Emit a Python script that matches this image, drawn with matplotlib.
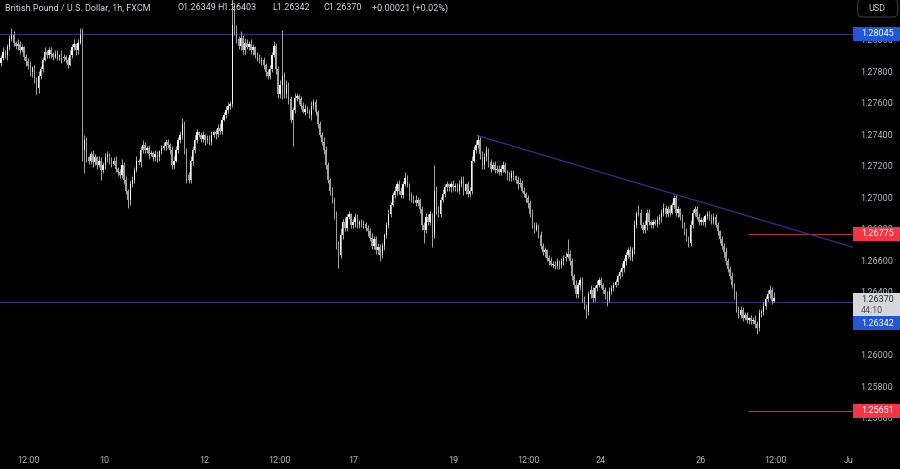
import numpy as np
import matplotlib
matplotlib.use("Agg")
import matplotlib.pyplot as plt
from matplotlib.patches import Rectangle, FancyBboxPatch

# hourly GBP/USD closes (one per bar, weekends skipped)
closes = [
    1.2789, 1.2793, 1.2791, 1.2796, 1.2801, 1.2804, 1.2799, 1.2797, 1.2798, 1.2794,
    1.2796, 1.2790, 1.2787, 1.2784, 1.2780, 1.2783, 1.2775, 1.2770, 1.2778, 1.2782,
    1.2788, 1.2793, 1.2791, 1.2794, 1.2792, 1.2790, 1.2792, 1.2790, 1.2791, 1.2789,
    1.2790, 1.2788, 1.2785, 1.2791, 1.2796, 1.2798, 1.2794, 1.2799, 1.2804, 1.2731,
    1.2737, 1.2726, 1.2724, 1.2728, 1.2723, 1.2726, 1.2721, 1.2724, 1.2718, 1.2721,
    1.2726, 1.2728, 1.2724, 1.2722, 1.2724, 1.2719, 1.2717, 1.2715, 1.2721, 1.2712,
    1.2705, 1.2699, 1.2709, 1.2712, 1.2718, 1.2724, 1.2723, 1.2731, 1.2734, 1.2731,
    1.2732, 1.2728, 1.2729, 1.2726, 1.2728, 1.2726, 1.2730, 1.2732, 1.2733, 1.2736,
    1.2734, 1.2731, 1.2721, 1.2724, 1.2731, 1.2737, 1.2740, 1.2747, 1.2731, 1.2715,
    1.2712, 1.2724, 1.2731, 1.2737, 1.2742, 1.2740, 1.2738, 1.2740, 1.2737, 1.2738,
    1.2736, 1.2740, 1.2742, 1.2741, 1.2745, 1.2743, 1.2750, 1.2753, 1.2756, 1.2759,
    1.2760, 1.2810, 1.2807, 1.2801, 1.2797, 1.2802, 1.2794, 1.2799, 1.2796, 1.2798,
    1.2794, 1.2796, 1.2791, 1.2789, 1.2787, 1.2788, 1.2785, 1.2780, 1.2778, 1.2782,
    1.2791, 1.2797, 1.2782, 1.2766, 1.2772, 1.2778, 1.2766, 1.2772, 1.2763, 1.2750,
    1.2756, 1.2764, 1.2765, 1.2763, 1.2759, 1.2755, 1.2757, 1.2756, 1.2753, 1.2759,
    1.2761, 1.2755, 1.2747, 1.2740, 1.2736, 1.2731, 1.2721, 1.2712, 1.2705, 1.2699,
    1.2690, 1.2670, 1.2664, 1.2677, 1.2685, 1.2681, 1.2688, 1.2690, 1.2683, 1.2685,
    1.2688, 1.2683, 1.2685, 1.2683, 1.2684, 1.2681, 1.2679, 1.2675, 1.2670, 1.2674,
    1.2667, 1.2669, 1.2664, 1.2670, 1.2677, 1.2683, 1.2690, 1.2696, 1.2702, 1.2705,
    1.2709, 1.2705, 1.2702, 1.2709, 1.2713, 1.2709, 1.2702, 1.2700, 1.2699, 1.2697,
    1.2699, 1.2693, 1.2683, 1.2680, 1.2688, 1.2685, 1.2690, 1.2677, 1.2705, 1.2693,
    1.2690, 1.2699, 1.2703, 1.2707, 1.2709, 1.2707, 1.2709, 1.2707, 1.2708, 1.2705,
    1.2709, 1.2712, 1.2705, 1.2709, 1.2703, 1.2705, 1.2724, 1.2731, 1.2734, 1.2737,
    1.2728, 1.2721, 1.2726, 1.2731, 1.2723, 1.2719, 1.2721, 1.2718, 1.2719, 1.2717,
    1.2719, 1.2721, 1.2717, 1.2715, 1.2713, 1.2716, 1.2714, 1.2712, 1.2709, 1.2710,
    1.2705, 1.2703, 1.2700, 1.2697, 1.2690, 1.2683, 1.2680, 1.2683, 1.2677, 1.2670,
    1.2666, 1.2667, 1.2662, 1.2660, 1.2658, 1.2658, 1.2657, 1.2660, 1.2658, 1.2660,
    1.2662, 1.2663, 1.2665, 1.2660, 1.2651, 1.2645, 1.2639, 1.2645, 1.2648, 1.2636,
    1.2632, 1.2628, 1.2639, 1.2642, 1.2637, 1.2643, 1.2645, 1.2648, 1.2645, 1.2642,
    1.2639, 1.2636, 1.2641, 1.2643, 1.2645, 1.2647, 1.2651, 1.2653, 1.2656, 1.2660,
    1.2664, 1.2667, 1.2663, 1.2667, 1.2683, 1.2690, 1.2691, 1.2683, 1.2680, 1.2683,
    1.2691, 1.2685, 1.2683, 1.2685, 1.2684, 1.2686, 1.2688, 1.2691, 1.2694, 1.2690,
    1.2693, 1.2691, 1.2696, 1.2700, 1.2691, 1.2693, 1.2688, 1.2683, 1.2679, 1.2675,
    1.2672, 1.2683, 1.2691, 1.2693, 1.2688, 1.2685, 1.2686, 1.2685, 1.2689, 1.2690,
    1.2688, 1.2686, 1.2688, 1.2683, 1.2679, 1.2674, 1.2670, 1.2666, 1.2660, 1.2655,
    1.2651, 1.2645, 1.2639, 1.2630, 1.2626, 1.2629, 1.2624, 1.2626, 1.2623, 1.2624,
    1.2622, 1.2623, 1.2620, 1.2618, 1.2627, 1.2628, 1.2632, 1.2636, 1.2639, 1.2642,
    1.2635, 1.26370,
]
first_open = 1.2786
last_open = 1.26349

# wick lengths in pips above / below the body
wick_up = [
    2, 3, 1, 2, 3, 4, 2, 1, 3, 2, 2, 1, 2, 2, 3, 1, 2, 2, 3, 2,
    2, 3, 1, 2, 2, 1, 2, 2, 1, 3, 2, 1, 2, 3, 2, 3, 1, 2, 4, 4,
    3, 2, 1, 2, 3, 2, 1, 3, 2, 2, 3, 2, 1, 2, 2, 3, 1, 2, 4, 2,
    2, 1, 3, 2, 2, 3, 1, 2, 3, 2, 1, 2, 2, 1, 3, 2, 1, 2, 3, 2,
    2, 1, 2, 3, 2, 2, 3, 4, 2, 1, 2, 3, 2, 3, 2, 1, 2, 3, 1, 2,
    2, 3, 1, 2, 2, 3, 2, 2, 3, 2, 2, 50, 13, 3, 2, 4, 2, 3, 2, 2,
    3, 2, 1, 2, 3, 2, 2, 1, 2, 3, 2, 3, 2, 2, 3, 29, 2, 3, 2, 2,
    2, 3, 2, 1, 2, 2, 3, 2, 1, 3, 2, 2, 1, 2, 2, 3, 2, 2, 1, 2,
    2, 2, 3, 4, 2, 3, 2, 2, 1, 2, 3, 2, 1, 2, 2, 1, 2, 2, 3, 2,
    2, 3, 2, 2, 1, 2, 3, 2, 2, 3, 2, 3, 2, 2, 4, 2, 1, 2, 2, 3,
    2, 1, 2, 2, 3, 2, 2, 1, 16, 3, 2, 2, 3, 2, 2, 1, 2, 3, 2, 2,
    3, 2, 2, 1, 2, 2, 3, 2, 3, 3, 2, 2, 3, 2, 1, 2, 2, 3, 2, 2,
    2, 3, 2, 1, 2, 2, 2, 1, 2, 3, 2, 2, 1, 2, 2, 3, 2, 2, 1, 2,
    2, 2, 1, 2, 3, 2, 2, 2, 1, 2, 2, 3, 9, 2, 2, 1, 3, 2, 2, 2,
    2, 1, 2, 3, 2, 2, 3, 2, 2, 1, 2, 2, 3, 2, 2, 2, 1, 2, 3, 2,
    2, 2, 3, 2, 3, 2, 5, 2, 2, 3, 2, 2, 1, 2, 2, 3, 2, 2, 3, 2,
    2, 3, 2, 2, 2, 2, 1, 2, 2, 2, 1, 3, 2, 2, 2, 3, 2, 2, 1, 2,
    2, 2, 3, 2, 2, 1, 2, 2, 3, 2, 2, 2, 1, 2, 2, 3, 2, 2, 2, 1,
    2, 2, 3, 2, 3, 2, 2, 2, 3, 3, 2, 3.3,
]
wick_dn = [
    2, 1, 2, 3, 2, 1, 2, 2, 3, 2, 1, 2, 3, 2, 2, 3, 2, 4, 3, 2,
    2, 1, 2, 2, 3, 2, 1, 2, 2, 3, 2, 2, 2, 1, 2, 2, 3, 2, 1, 7,
    15, 3, 2, 2, 3, 2, 2, 1, 6, 2, 2, 3, 2, 2, 1, 2, 3, 2, 2, 3,
    2, 5, 3, 2, 2, 1, 2, 3, 2, 2, 2, 3, 1, 2, 2, 3, 2, 2, 1, 2,
    2, 3, 2, 2, 1, 2, 2, 2, 3, 5, 2, 2, 3, 2, 2, 1, 2, 2, 3, 2,
    2, 2, 1, 3, 2, 2, 2, 1, 2, 2, 2, 2, 3, 2, 2, 3, 2, 2, 1, 2,
    2, 3, 2, 2, 1, 2, 3, 2, 2, 2, 2, 1, 3, 2, 2, 9, 2, 2, 3, 2,
    17, 2, 2, 3, 2, 1, 2, 2, 2, 3, 2, 2, 2, 1, 2, 3, 2, 2, 3, 2,
    3, 2, 8, 2, 3, 2, 2, 1, 2, 2, 3, 2, 2, 1, 2, 2, 3, 2, 2, 2,
    2, 2, 4, 2, 3, 2, 2, 2, 1, 2, 3, 2, 2, 2, 1, 2, 3, 2, 2, 2,
    2, 2, 3, 8, 2, 2, 2, 8, 2, 3, 2, 2, 1, 2, 2, 2, 3, 2, 2, 1,
    2, 2, 3, 2, 2, 2, 2, 1, 2, 2, 3, 2, 2, 2, 3, 2, 1, 2, 2, 2,
    2, 2, 1, 3, 2, 2, 2, 2, 3, 2, 1, 2, 2, 3, 2, 2, 2, 1, 2, 2,
    2, 3, 2, 2, 1, 2, 2, 2, 3, 2, 2, 2, 1, 2, 3, 2, 2, 2, 3, 2,
    2, 4, 2, 2, 3, 2, 2, 1, 2, 2, 3, 4, 2, 2, 2, 1, 2, 2, 2, 3,
    2, 2, 2, 3, 2, 2, 1, 2, 2, 2, 3, 2, 2, 2, 1, 2, 2, 3, 2, 2,
    2, 2, 1, 2, 2, 3, 2, 2, 2, 2, 3, 2, 2, 2, 1, 2, 2, 2, 3, 2,
    2, 2, 2, 1, 2, 2, 2, 3, 2, 2, 2, 2, 3, 2, 2, 2, 2, 1, 2, 3,
    2, 2, 2, 4, 2, 2, 2, 2, 1, 2, 2, 0.7,
]

# drawn levels
resistance = 1.28045
support = 1.26342
red_levels = [1.26775, 1.25651]
trend_prices = [1.2740, 1.2669]
trend_bars = [228.5, 409]
red_start_bar = 358.5

price_ticks = [1.256, 1.258, 1.260, 1.262, 1.264, 1.266, 1.268, 1.270, 1.272, 1.274, 1.276, 1.278, 1.280]
time_tick_bars = [13, 49.5, 97.5, 133.5, 169, 217, 253, 288, 336, 372, 407.5]
time_tick_labels = ["12:00", "10", "12", "12:00", "17", "19", "12:00", "24", "26", "12:00", "Jul"]

W, H = 900, 469
plt.rcParams['font.family'] = ['Roboto', 'DejaVu Sans']
fig = plt.figure(figsize=(W / 100, H / 100), dpi=100, facecolor='black')

ytop = 1.2826
pix = 0.0000635  # price per pixel
ax = fig.add_axes([0, 26 / H, 853 / W, 443 / H])
ax.set_facecolor('black')
for s in ax.spines.values():
    s.set_visible(False)
ax.set_ylim(ytop - 443 * pix, ytop)
ax.set_xlim(-0.5, 409)

c = np.array(closes)
o = np.concatenate([[first_open], c[:-1]])
o[-1] = last_open
idx = np.arange(len(c))
top = np.maximum(o, c)
bot = np.minimum(o, c)
hi = top + np.array(wick_up) * 0.0001
lo = bot - np.array(wick_dn) * 0.0001
up = c >= o
body_col = np.where(up, '#f2f2f2', '#a0a0a0')

ax.vlines(idx, lo, hi, colors='#a8a8a8', linewidth=0.7, zorder=2)
ax.bar(idx, np.maximum(top - bot, 0.00002), bottom=bot, width=0.66,
       color=body_col, linewidth=0, zorder=3)

ax.axhline(resistance, color='#2c3578', lw=0.9, zorder=1)
ax.axhline(support, color='#2c3578', lw=0.9, zorder=1)
for lv in red_levels:
    ax.hlines(lv, red_start_bar, 409, color='#a8323a', lw=0.9, zorder=1)
ax.plot(trend_bars, trend_prices, color='#2a3390', lw=0.9, zorder=1)

ax.set_yticks([])
ax.set_xticks(time_tick_bars)
ax.set_xticklabels(time_tick_labels)
ax.tick_params(axis='x', length=0, pad=9, colors='#b2b5be', labelsize=6.5)

# price scale panel
axr = fig.add_axes([853 / W, 0, 47 / W, 1], zorder=5)
axr.set_facecolor('black')
for s in axr.spines.values():
    s.set_visible(False)
axr.set_xticks([])
axr.set_yticks([])
axr.set_xlim(0, 1)
axr.set_ylim(ytop - H * pix, ytop)

for p in price_ticks:
    axr.text(0.15, p, f"{p:.5f}", color='#b2b5be', fontsize=6.5, va='center', ha='left')

half = 7 * pix
tags = [(resistance, resistance, '#2157d6', 'white'),
        (red_levels[0], red_levels[0], '#f23645', 'white'),
        (support, ytop - 323 * pix, '#2157d6', 'white'),
        (red_levels[1], red_levels[1], '#f23645', 'white')]
for val, yc, fc, tc in tags:
    axr.add_patch(Rectangle((0, yc - half), 1, 2 * half, facecolor=fc, edgecolor='none', zorder=3))
    axr.text(0.17, yc, f"{val:.5f}", color=tc, fontsize=6.5, va='center', ha='left', zorder=4)

# current price box
axr.add_patch(Rectangle((0, ytop - 316 * pix), 1, 23 * pix, facecolor='#d6d7db',
                        edgecolor='none', zorder=3))
axr.text(0.17, ytop - 299 * pix, f"{closes[-1]:.5f}", color='#2a2e39', fontsize=6.5,
         va='center', ha='left', zorder=4)
axr.text(0.17, ytop - 310 * pix, "44:10", color='#50535e', fontsize=6.5,
         va='center', ha='left', zorder=4)

# currency box
axr.add_patch(FancyBboxPatch((0.1, ytop - 17 * pix), 0.85, 18 * pix,
                             boxstyle="round,pad=0,rounding_size=0.1",
                             mutation_aspect=pix * 47 / 0.9,
                             facecolor='black', edgecolor='#363a45', lw=0.8, zorder=3))
axr.text(0.5, ytop - 8 * pix, "USD", color='#d1d4dc', fontsize=6.5, va='center', ha='center', zorder=4)

# header legend
ty = 1 - 8 / H
fig.text(5 / W, ty, "British Pound / U.S. Dollar, 1h, FXCM", color='#d1d4dc', fontsize=6.5, va='center')
for xpos, s in [(178, "O1.26349"), (217, "H1.26403"), (272, "L1.26342"),
                (324, "C1.26370"), (372, "+0.00021 (+0.02%)")]:
    fig.text(xpos / W, ty, s, color='#d1d4dc', fontsize=6.5, va='center')

fig.savefig("out.png", dpi=100, facecolor='black')
